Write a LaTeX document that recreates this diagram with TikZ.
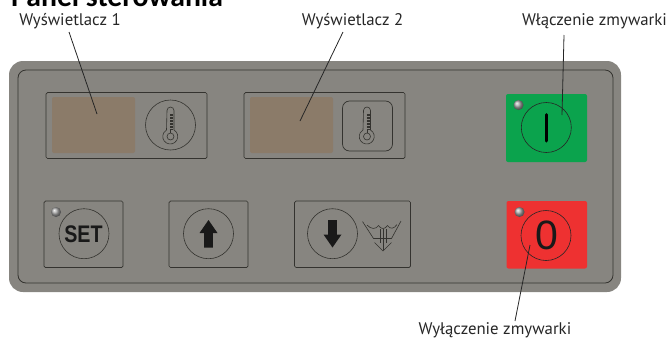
\documentclass[tikz,border=0pt]{standalone}
\usepackage{fontspec}
\setmainfont{PT Sans}
\newfontfamily\titlefont{Carlito}
\newfontfamily\keyfont{Liberation Sans}
\begin{document}
\begin{tikzpicture}[x=1pt,y=-1pt,
  lab/.style={inner sep=0pt,text=black!85,font=\fontsize{16.8}{18}\selectfont},
  ttl/.style={inner sep=0pt,anchor=base west,text=black,font=\titlefont\bfseries\fontsize{29.7}{30}\selectfont},
  panelouter/.style={fill=panelgray,draw=none,rounded corners=14pt},
  panelinner/.style={draw=lineDark,line width=0.8pt,rounded corners=8pt},
  keybox/.style={draw=lineDark,line width=0.7pt,rounded corners=1.5pt},
  window/.style={fill=windowbrown,rounded corners=2pt},
  knob/.style={draw=lineDark,line width=0.6pt,circle,minimum size=50pt,inner sep=0pt},
  led/.style={circle,minimum size=10pt,inner sep=0pt,ball color=gray!70,draw=none},
  leader/.style={draw=black!85,line width=0.8pt},
  iconline/.style={draw=lineDark,line width=0.6pt},
  solidmark/.style={fill=black!90,draw=none},
]
\definecolor{panelgray}{HTML}{878580}
\definecolor{lineDark}{HTML}{34332F}
\definecolor{windowbrown}{HTML}{8B7B69}
\definecolor{keygreen}{HTML}{0BA34D}
\definecolor{keyred}{HTML}{EE3131}
\useasboundingbox (0,0) rectangle (671,338);
\clip (0,0) rectangle (671,338);
% panel
\path[panelouter] (9,61) rectangle (621,292);
\path[panelinner] (18,70) rectangle (613,283);
% displays
\path[keybox] (46,92.5) rectangle (207,158.5);
\path[window] (52,97) rectangle (135,153);
\node[knob] (k1) at (170.5,125) {};
\path[keybox] (244,92.5) rectangle (405,158.5);
\path[window] (250,97) rectangle (333,153);
\path[keybox,rounded corners=7pt] (342.5,101) rectangle (392.5,151);
% thermometers
\foreach \cx in {170.5,367}{
  \begin{scope}[shift={(\cx,0)}]
  \draw[iconline] (-3.5,110.5) arc[start angle=180,end angle=360,radius=3.5] -- (3.5,130)
     arc[start angle=-60,end angle=240,radius=7.5] -- cycle;
  \draw[iconline] (0,136.5) circle[radius=3.5];
  \draw[iconline] (0,130) -- (0,133);
  \foreach \yy in {114,115.5,...,129}{\draw[iconline,line width=0.4pt] (-0.2,\yy) -- (2.8,\yy);}
  \end{scope}
}
% green key
\path[fill=keygreen,rounded corners=2pt] (506,94) rectangle (587,162);
\node[knob,draw=black!85] (k2) at (546.3,127.5) {};
\draw[black,line width=3pt,line cap=round] (546.3,114.5) -- (546.3,141);
\node[led] (l2) at (518.5,105) {};
% bottom keys
\path[keybox] (44,201) rectangle (123,267.5);
\node[knob] (k3) at (84,233.7) {};
\node[inner sep=0pt,text=black!90] (settext) at (83.5,234) {\scalebox{0.82}[1]{\keyfont\bfseries\fontsize{24}{24}\selectfont SET}};
\node[led] (l3) at (56,212) {};
\path[keybox] (169,201) rectangle (248,267.5);
\node[knob] (k4) at (208.5,233.7) {};
\path[solidmark] (208.5,220) -- (217.5,233) -- (212.8,233) -- (212.8,247.5) -- (204,247.5) -- (204,233) -- (199.5,233) -- cycle;
\path[keybox] (294.5,201) rectangle (410.5,267.5);
\node[knob] (k5) at (332.5,233.7) {};
\path[solidmark] (332.5,247.5) -- (341.5,234.5) -- (336.8,234.5) -- (336.8,220) -- (328,220) -- (328,234.5) -- (323.5,234.5) -- cycle;
% rinse symbol
\draw[iconline] (362.5,221.5) -- (373.5,238.5) -- (391.5,238.5) -- (401,221);
\draw[iconline] (367,225) .. controls (371,229.5) and (376,229.5) .. (378.5,225.5) .. controls (381,229.5) and (385,229.5) .. (387.5,225.5) .. controls (390,229.5) and (394,229) .. (397,224.5);
\draw[iconline] (380,229) -- (380,243) (383,229) -- (383,250) (386,229) -- (386,243);
\draw[iconline] (374.5,242.5) -- (383,251) -- (391.5,242.5);
% red key
\path[fill=keyred,rounded corners=2pt] (506.5,201) rectangle (587,268.5);
\node[knob,draw=black!85] (k6) at (546,235.5) {};
\node[inner sep=0pt,text=black!90] (zero) at (546.5,235.5) {\keyfont\fontsize{41}{41}\selectfont 0};
\node[led] (l6) at (519.5,212) {};
% labels
\node[ttl] (title) at (11,6) {Panel sterowania};
\node[lab] (a) at (70,21) {Wyświetlacz 1};
\node[lab] (b) at (352.5,21) {Wyświetlacz 2};
\node[lab] (c) at (594.5,21) {Włączenie zmywarki};
\node[lab] (d) at (495,330) {Wyłączenie zmywarki};
\coordinate (ae) at (97,114);
\coordinate (be) at (300,121);
\coordinate (ce) at (562,115);
\coordinate (de) at (530,245);
\coordinate (as) at (69,32);
\coordinate (bs) at (343,32);
\coordinate (cs) at (564,35);
\coordinate (ds) at (515,321);
\path[leader] (as) -- (ae);
\path[leader] (bs) -- (be);
\path[leader] (cs) -- (ce);
\path[leader] (ds) -- (de);
\end{tikzpicture}
\end{document}
